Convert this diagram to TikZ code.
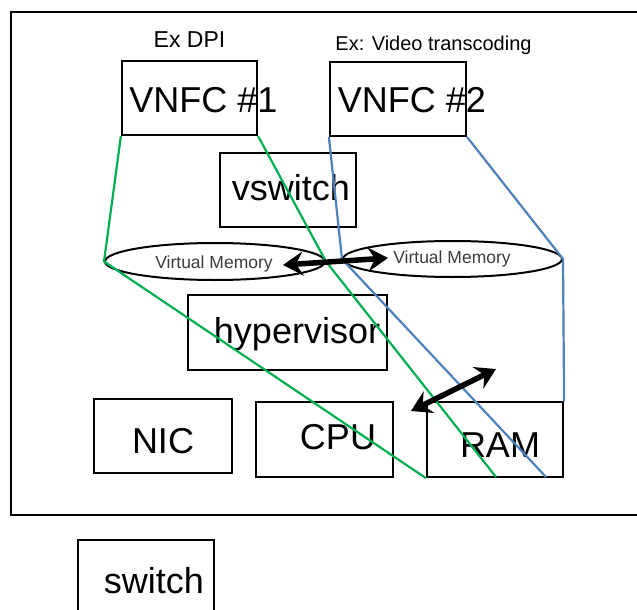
\documentclass[tikz,border=0pt]{standalone}
\usepackage{fontspec}
\setmainfont{Liberation Sans}
\usetikzlibrary{shapes.geometric,arrows.meta}
\definecolor{lngreen}{RGB}{0,176,80}
\definecolor{lnblue}{RGB}{79,129,189}
\definecolor{vmgray}{RGB}{60,60,60}
\tikzset{
  box/.style={draw, line width=2.2pt, inner sep=0pt},
  bigtxt/.style={anchor=base, inner sep=0pt, font=\fontsize{36}{36}\selectfont},
  smalltxt/.style={anchor=base, inner sep=0pt},
  vmtxt/.style={anchor=base, inner sep=0pt, text=vmgray, font=\fontsize{17.5}{17.5}\selectfont},
  vmem/.style={draw, ellipse, line width=2pt, inner sep=0pt},
  gline/.style={draw=lngreen, line width=2.2pt},
  bline/.style={draw=lnblue, line width=2.2pt},
  dblarrow/.style={line width=5.5pt, {Stealth[length=20pt,width=24pt,inset=7pt]}-{Stealth[length=20pt,width=24pt,inset=7pt]}}
}
\begin{document}
\begin{tikzpicture}[x=1pt,y=-1pt]
\useasboundingbox (0,0) rectangle (637,610);
\clip (0,0) rectangle (637,610);
\fill[white] (0,0) rectangle (637,610);

% outer frame
\coordinate (ftr) at (650,12);
\coordinate (ftl) at (11,12);
\coordinate (fbl) at (11,515);
\coordinate (fbr) at (650,515);
\draw[line width=2.6pt] (ftr) -- (ftl) -- (fbl) -- (fbr);

% boxes
\node[box, minimum width=135, minimum height=74] (vnfc1) at (189.5,98) {};
\node[box, minimum width=136, minimum height=74] (vnfc2) at (398,99) {};
\node[box, minimum width=136, minimum height=74] (vsw) at (288,190) {};
\node[box, minimum width=199, minimum height=75] (hyp) at (287.5,332.5) {};
\node[box, minimum width=138, minimum height=74] (nic) at (163,436) {};
\node[box, minimum width=137, minimum height=75] (cpu) at (324.5,439.5) {};
\node[box, minimum width=136, minimum height=75] (ram) at (495,439.5) {};
\node[box, minimum width=136, minimum height=90] (sw) at (146,585) {};

% ellipses
\node[vmem, minimum width=220, minimum height=37] (vm1) at (215,261.5) {};
\node[vmem, minimum width=219, minimum height=36] (vm2) at (452.5,259) {};

% texts
\node[smalltxt, font=\fontsize{23}{23}\selectfont] (t1) at (189.5,48) {Ex DPI};
\node[smalltxt, font=\fontsize{20}{20}\selectfont] (t2) at (433.5,51) {Ex: Video transcoding};
\node[bigtxt] (l1) at (203.5,112) {VNFC \#1};
\node[bigtxt] (l2) at (412,112) {VNFC \#2};
\node[bigtxt] (l3) at (291,200) {vswitch};
\node[bigtxt] (l4) at (297,343) {hypervisor};
\node[bigtxt] (l5) at (163,453) {NIC};
\node[bigtxt] (l6) at (338,449) {CPU};
\node[bigtxt] (l7) at (500,457) {RAM};
\node[bigtxt] (l8) at (154,593) {switch};
\node[vmtxt] (v1) at (214,268) {Virtual Memory};
\node[vmtxt] (v2) at (452,263) {Virtual Memory};

% connector end points
\coordinate (g2) at (496,477);
\coordinate (b2) at (546,477);

% green lines (VNFC #1)
\draw[gline] (vnfc1.south west) -- (vm1.west) -- (ram.south west);
\draw[gline] (vnfc1.south east) -- (vm1.east) -- (g2);
% blue lines (VNFC #2)
\draw[bline] (vnfc2.south west) -- (vm2.west) -- (b2);
\draw[bline] (vnfc2.south east) -- (vm2.east) -- (ram.north east);

% double arrows
\coordinate (a1) at (283,265);
\coordinate (a2) at (388,258);
\draw[dblarrow] (a1) -- (a2);
\coordinate (a3) at (411,411);
\coordinate (a4) at (496,369);
\draw[dblarrow] (a3) -- (a4);
\end{tikzpicture}
\end{document}
